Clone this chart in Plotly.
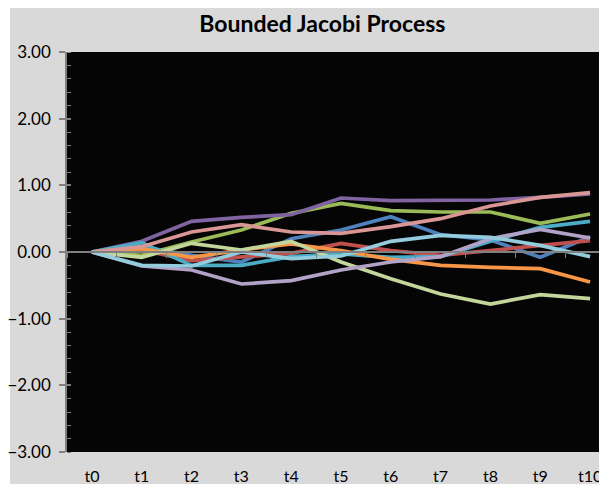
import plotly.graph_objects as go

categories = ["t0", "t1", "t2", "t3", "t4", "t5", "t6", "t7", "t8", "t9", "t10"]

series_names = ["Path 1", "Path 2", "Path 3", "Path 4", "Path 5", "Path 6",
                "Path 7", "Path 8", "Path 9", "Path 10"]
path_1 = [0, 0.08, -0.05, -0.15, 0.20, 0.33, 0.53, 0.26, 0.18, -0.08, 0.23]
path_2 = [0, 0.03, -0.13, -0.08, -0.02, 0.13, 0.02, -0.05, 0.02, 0.10, 0.17]
path_3 = [0, -0.05, 0.15, 0.33, 0.58, 0.73, 0.62, 0.60, 0.60, 0.43, 0.57]
path_4 = [0, 0.16, 0.46, 0.52, 0.56, 0.81, 0.77, 0.77, 0.78, 0.82, 0.87]
path_5 = [0, 0.14, -0.20, -0.20, -0.07, -0.03, -0.08, -0.07, 0.16, 0.37, 0.46]
path_6 = [0, 0.05, -0.08, 0.03, 0.12, 0.02, -0.11, -0.20, -0.23, -0.25, -0.45]
path_7 = [0, 0.08, 0.30, 0.41, 0.30, 0.28, 0.38, 0.50, 0.69, 0.82, 0.89]
path_8 = [0, -0.08, 0.13, 0.03, 0.16, -0.15, -0.40, -0.63, -0.78, -0.64, -0.70]
path_9 = [0, -0.21, -0.27, -0.48, -0.43, -0.27, -0.15, -0.07, 0.20, 0.34, 0.21]
path_10 = [0, -0.20, -0.21, 0.00, -0.10, -0.06, 0.16, 0.25, 0.22, 0.10, -0.07]

paths = [path_1, path_2, path_3, path_4, path_5, path_6, path_7, path_8, path_9, path_10]
colors = ["#4F81BD", "#C0504D", "#9BBB59", "#8064A2", "#4BACC6", "#F79646",
          "#D99694", "#C3D69B", "#B3A2C7", "#93CDDD"]

fig = go.Figure()
for name, vals, col in zip(series_names, paths, colors):
    fig.add_trace(go.Scatter(x=categories, y=vals, mode="lines", name=name,
                             line=dict(color=col, width=3.7), showlegend=False))

# dummy trace carrying the zero-level axis line and the inner major ticks
fig.add_trace(go.Scatter(x=categories, y=[None] * len(categories), xaxis="x2",
                         yaxis="y2", mode="lines", showlegend=False,
                         hoverinfo="skip"))

xr = [-0.5, 10.5]
yr = [-3, 3]
fig.update_layout(
    width=607, height=484,
    margin=dict(l=59, r=0, t=44, b=40, autoexpand=False),
    paper_bgcolor="white",
    plot_bgcolor="rgba(0,0,0,0)",
    font=dict(family="Lato, sans-serif", size=16, color="#000000"),
    title=dict(text="<b>Bounded Jacobi Process</b>", x=0.466, xref="paper",
               xanchor="center", y=1 - 16 / 484, yanchor="middle",
               font=dict(size=23, color="#000000"), automargin=False),
    xaxis=dict(type="category", range=xr, showline=False, ticks="",
               showgrid=False, zeroline=False, tickfont=dict(size=16),
               ticklabelstandoff=13, automargin=False),
    xaxis2=dict(type="category", range=xr, overlaying="x", anchor="free",
                position=0.5, side="bottom", showline=True, linecolor="#808080",
                linewidth=1.5, ticks="outside", tickson="boundaries", ticklen=5,
                tickcolor="#808080", showticklabels=False, showgrid=False,
                zeroline=False, automargin=False),
    yaxis=dict(range=yr, dtick=1, tickformat=".2f", showgrid=False,
               zeroline=False, showline=True, linecolor="#808080", linewidth=1.5,
               ticks="outside", ticklen=6, tickcolor="#808080", tickwidth=1.5,
               minor=dict(dtick=0.2, ticks="inside", ticklen=4,
                          tickcolor="#808080", tickwidth=1.2),
               tickfont=dict(size=17), ticklabelstandoff=5, automargin=False),
    yaxis2=dict(range=yr, dtick=1, overlaying="y", side="left", anchor="x",
                showline=False, ticks="inside", ticklen=4, tickcolor="#808080",
                tickwidth=1.5, showticklabels=False, showgrid=False,
                zeroline=False, automargin=False),
    shapes=[
        dict(type="rect", xref="paper", yref="paper", x0=(2 - 59) / 548, x1=1.05,
             y0=-0.12, y1=444 / 400, fillcolor="#D9D9D9", line=dict(width=0),
             layer="below"),
        dict(type="rect", xref="paper", yref="paper", x0=0, x1=1.05, y0=0, y1=1,
             fillcolor="#050505", line=dict(width=0), layer="below"),
    ],
)

fig.write_html("out.html")
